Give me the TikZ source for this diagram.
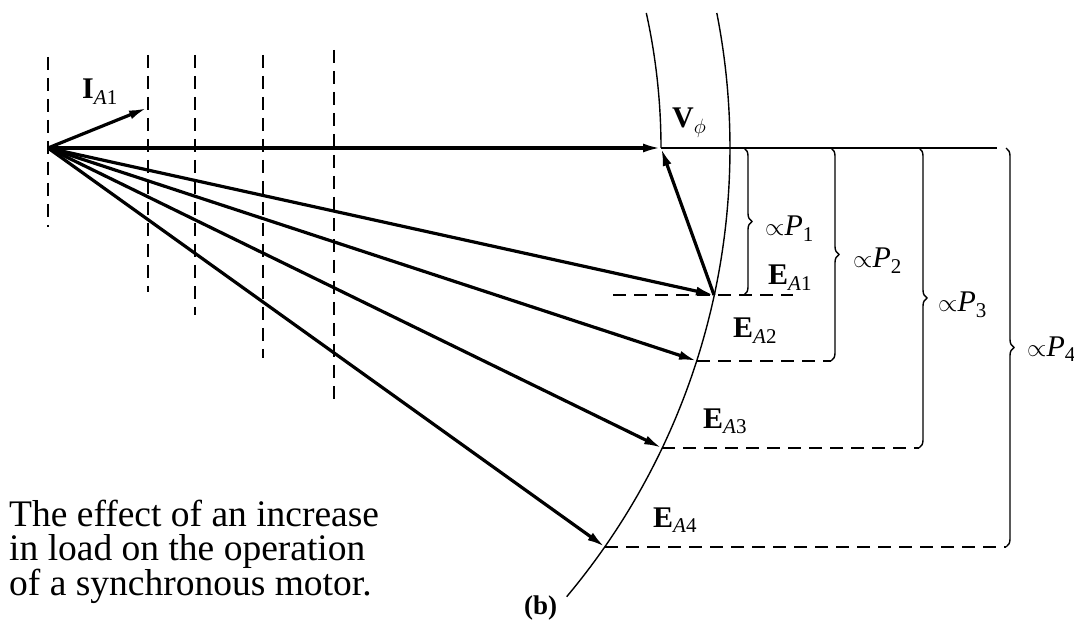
\documentclass[tikz,border=0pt]{standalone}
\usepackage{fontspec}
\setmainfont{Liberation Serif}
\usetikzlibrary{arrows.meta,decorations.pathreplacing}
\begin{document}
\begin{tikzpicture}[x=1pt,y=1pt,
    vec/.style={line width=3.2pt,-{Latex[length=18pt,width=9pt]}},
    locus/.style={line width=1.4pt},
    guide/.style={line width=1.4pt,dash pattern=on 13pt off 8pt},
    pbrace/.style={line width=1.4pt,decorate,decoration={brace,amplitude=8pt}},
    lbl/.style={inner sep=0pt,anchor=base west,font=\fontsize{30}{36}\selectfont}]
    \useasboundingbox (0,0) rectangle (1074,-636);
    \coordinate (O) at (48,-148);
    \coordinate (V) at (661,-148);
    \coordinate (I1) at (147,-108);
    \coordinate (E1) at (714,-295);
    \coordinate (E2) at (697,-361);
    \coordinate (E3) at (662,-448);
    \coordinate (E4) at (605,-547);
    % current loci
    \foreach \x/\t/\b in {48/57/227,148/55/292,195/55/315,263/55/358,334/50/402}
      \draw [guide] (\x,-\t) -- (\x,-\b);
    % constant V and E circles
    \draw [locus] (32,-148) ++(12.4:629) arc [start angle=12.4, end angle=0, radius=629];
    \draw [locus] (32,-148) ++(11.15:698) arc [start angle=11.15, end angle=-40, radius=698];
    \draw [locus] (V) -- (997,-148);
    \draw [guide] (613,-295) -- (793,-295);
    \draw [guide] (E2) -- (831,-361);
    \draw [guide] (E3) -- (919,-448);
    \draw [guide] (E4) -- (1006,-547);
    \draw [pbrace] (744,-148) -- (744,-295);
    \draw [pbrace] (831,-148) -- (831,-361);
    \draw [pbrace] (919,-148) -- (919,-448);
    \draw [pbrace] (1006,-148) -- (1006,-547);
    % phasors
    \draw [vec] (O) -- (I1);
    \draw [vec] (O) -- (V);
    \draw [vec] (O) -- (E1);
    \draw [vec] (O) -- (E2);
    \draw [vec] (O) -- (E3);
    \draw [vec] (O) -- (E4);
    \draw [vec] (E1) -- (V);
    % labels
    \node (iA1) [lbl] at (82,-99) {\textbf{I}\textsubscript{\textit{A}1}};
    \node (vphi) [lbl] at (672,-128) {\textbf{V}$_\phi$};
    \node (p1) [lbl] at (765,-236) {$\propto$\textit{P}\textsubscript{1}};
    \node (p2) [lbl] at (853,-268) {$\propto$\textit{P}\textsubscript{2}};
    \node (p3) [lbl] at (938,-312) {$\propto$\textit{P}\textsubscript{3}};
    \node (p4) [lbl] at (1027,-356) {$\propto$\textit{P}\textsubscript{4}};
    \node (eA1) [lbl] at (768,-285) {\textbf{E}\textsubscript{\textit{A}1}};
    \node (eA2) [lbl] at (733,-338) {\textbf{E}\textsubscript{\textit{A}2}};
    \node (eA3) [lbl] at (703,-428) {\textbf{E}\textsubscript{\textit{A}3}};
    \node (eA4) [lbl] at (653,-527) {\textbf{E}\textsubscript{\textit{A}4}};
    \node (b) [lbl,font=\bfseries\fontsize{27}{30}\selectfont] at (524,-614) {(b)};
    \node (cap) [anchor=base west,align=left,inner sep=0pt,font=\fontsize{37.5}{34}\selectfont] at (9,-595.5)
      {The effect of an increase\\in load on the operation\\of a synchronous motor.};
\end{tikzpicture}
\end{document}
